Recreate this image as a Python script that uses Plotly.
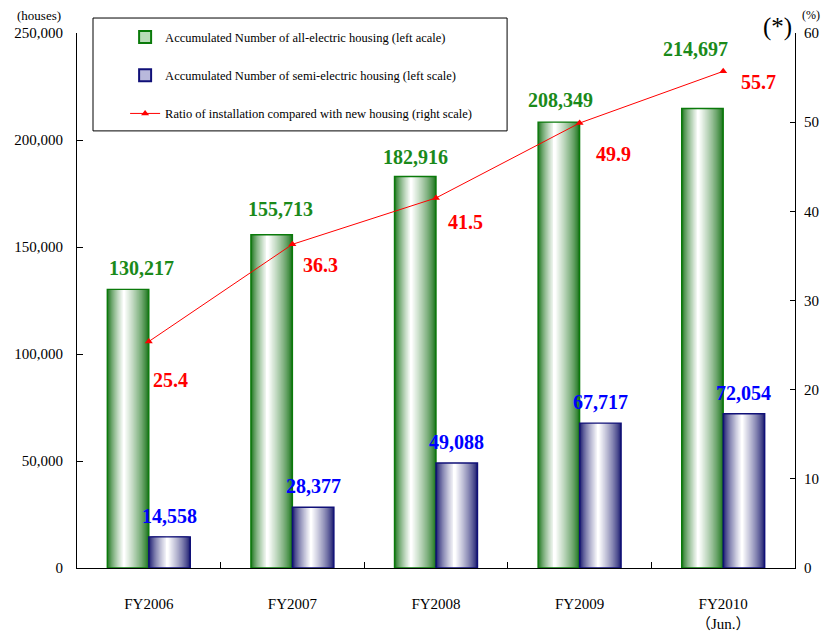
import plotly.graph_objects as go

# ---------------- data ----------------
categories = ["FY2006", "FY2007", "FY2008", "FY2009", "FY2010<br>（Jun.）"]
all_electric = [130217, 155713, 182916, 208349, 214697]
semi_electric = [14558, 28377, 49088, 67717, 72054]
ratio = [25.4, 36.3, 41.5, 49.9, 55.7]
left_ticks = [0, 50000, 100000, 150000, 200000, 250000]
right_ticks = [0, 10, 20, 30, 40, 50, 60]

names = [
    "Accumulated Number of all-electric housing (left acale)",
    "Accumulated Number of semi-electric housing (left scale)",
    "Ratio of installation compared with new housing (right scale)",
]

# ---------------- styles ----------------
FONT = "Liberation Serif, Times New Roman, serif"
XFONT = "Liberation Serif, Noto Sans CJK JP, serif"
GREEN_DARK = (25, 115, 25)
GREEN_EDGE = "#0a7a0a"
GREEN_TXT = "#1a8a1a"
BLUE_DARK = (25, 25, 110)
BLUE_EDGE = "#101078"
BLUE_TXT = "#0000ff"
RED = "#ff0000"
BAR_W = 0.289
LAYERS = 22

# label offsets (pixels) – style only
green_dx = [13, 9, 0, 2, -7]
green_dy = [21, 26, 20, 22, 60]
blue_dy = [21, 21, 21, 21, 21]
red_dx = [2, 9, 10, 14, 16]
red_dy = [-38, -21, -24, -31, -11]

xpos = list(range(len(categories)))


def mix(c1, c2, t):
    return "rgb(%d,%d,%d)" % tuple(round(a + (b - a) * t) for a, b in zip(c1, c2))


fig = go.Figure()


def add_gradient_bars(values, left_offset, dark, edge, highlight):
    for k in range(LAYERS):
        t = k / LAYERS
        lo = left_offset + t * highlight * BAR_W
        hi = left_offset + BAR_W - t * (1 - highlight) * BAR_W
        c = mix(dark, (255, 255, 255), (k / (LAYERS - 1)) ** 0.75)
        fig.add_trace(go.Bar(
            x=xpos, y=values, width=hi - lo, offset=lo,
            marker=dict(color=c, line=dict(width=0)),
            showlegend=False, hoverinfo="skip"))
    fig.add_trace(go.Bar(
        x=xpos, y=values, width=BAR_W, offset=left_offset,
        marker=dict(color="rgba(0,0,0,0)", line=dict(color=edge, width=1.4)),
        showlegend=False, hoverinfo="skip"))


add_gradient_bars(all_electric, -BAR_W, GREEN_DARK, GREEN_EDGE, 0.4)
add_gradient_bars(semi_electric, 0.0, BLUE_DARK, BLUE_EDGE, 0.45)

# legend-only entries
fig.add_trace(go.Bar(x=[None], y=[None], name=names[0], legendgroup="a",
                     marker=dict(color="#b9dcb9", line=dict(color=GREEN_EDGE, width=2))))
fig.add_trace(go.Bar(x=[None], y=[None], name=names[1], legendgroup="b",
                     marker=dict(color="#b9b9dc", line=dict(color=BLUE_EDGE, width=2))))

fig.add_trace(go.Scatter(
    x=xpos, y=ratio, yaxis="y2", name=names[2], legendgroup="c",
    mode="lines+markers",
    line=dict(color=RED, width=1),
    marker=dict(symbol="triangle-up", size=7, color=RED)))

ann = []
for i, v in enumerate(all_electric):
    ann.append(dict(x=i - BAR_W / 2, y=v, xref="x", yref="y", text=f"{v:,}",
                    showarrow=False, xanchor="center", yanchor="middle",
                    xshift=green_dx[i], yshift=green_dy[i],
                    font=dict(family=FONT, size=20, color=GREEN_TXT, weight="bold")))
for i, v in enumerate(semi_electric):
    ann.append(dict(x=i + BAR_W / 2, y=v, xref="x", yref="y", text=f"{v:,}",
                    showarrow=False, xanchor="center", yanchor="middle",
                    yshift=blue_dy[i],
                    font=dict(family=FONT, size=20, color=BLUE_TXT, weight="bold")))
for i, v in enumerate(ratio):
    ann.append(dict(x=i, y=v, xref="x", yref="y2", text=f"{v}",
                    showarrow=False, xanchor="left", yanchor="middle",
                    xshift=red_dx[i], yshift=red_dy[i],
                    font=dict(family=FONT, size=20, color=RED, weight="bold")))

ann += [
    dict(x=0, y=1, xref="paper", yref="paper", text="(houses)", showarrow=False,
         xanchor="right", yanchor="bottom", xshift=-14, yshift=8,
         font=dict(family=FONT, size=13, color="black")),
    dict(x=1, y=1, xref="paper", yref="paper", text="(*)", showarrow=False,
         xanchor="right", yanchor="bottom", xshift=-1, yshift=-10,
         font=dict(family=FONT, size=25, color="black")),
    dict(x=1, y=1, xref="paper", yref="paper", text="(%)", showarrow=False,
         xanchor="left", yanchor="bottom", xshift=5, yshift=9,
         font=dict(family=FONT, size=12, color="black")),
]

fig.update_layout(
    width=825, height=634,
    margin=dict(l=77, r=30, t=33, b=66, autoexpand=False),
    paper_bgcolor="white", plot_bgcolor="white",
    barmode="overlay",
    font=dict(family=FONT, color="black"),
    xaxis=dict(
        range=[-0.5, len(categories) - 0.5], automargin=False,
        tickmode="array", tickvals=xpos, ticktext=categories,
        ticks="", showline=True, linecolor="black", linewidth=1,
        showgrid=False, zeroline=False,
        tickfont=dict(family=XFONT, size=15, color="black"),
        ticklabelstandoff=22,
        minor=dict(tickmode="array", tickvals=[i + 0.5 for i in xpos[:-1]],
                   ticks="inside", ticklen=6, tickcolor="black", showgrid=False),
    ),
    yaxis=dict(
        range=[0, 250000], tickmode="array", tickvals=left_ticks, automargin=False,
        tickformat=",d", ticks="inside", ticklen=6, tickcolor="black",
        showline=True, linecolor="black", linewidth=1,
        showgrid=False, zeroline=False,
        tickfont=dict(family=FONT, size=15, color="black"),
        ticklabelstandoff=10,
    ),
    yaxis2=dict(
        range=[0, 60], tickmode="array", tickvals=right_ticks, automargin=False,
        overlaying="y", side="right", anchor="x",
        ticks="inside", ticklen=5, tickcolor="black",
        showline=True, linecolor="black", linewidth=1,
        showgrid=False, zeroline=False,
        tickfont=dict(family=FONT, size=15, color="black"),
        ticklabelstandoff=5,
    ),
    legend=dict(
        x=0.067, y=1.02, xanchor="left", yanchor="top",
        traceorder="grouped", tracegroupgap=19,
        bgcolor="rgba(0,0,0,0)", borderwidth=0,
        font=dict(family=FONT, size=12.5, color="black"),
    ),
    shapes=[dict(type="rect", xref="paper", yref="paper",
                 x0=0.0223, x1=0.599, y0=0.817, y1=1.028,
                 line=dict(color="black", width=1), fillcolor="rgba(0,0,0,0)")],
    annotations=ann,
    showlegend=True,
)

fig.write_html("out.html")
